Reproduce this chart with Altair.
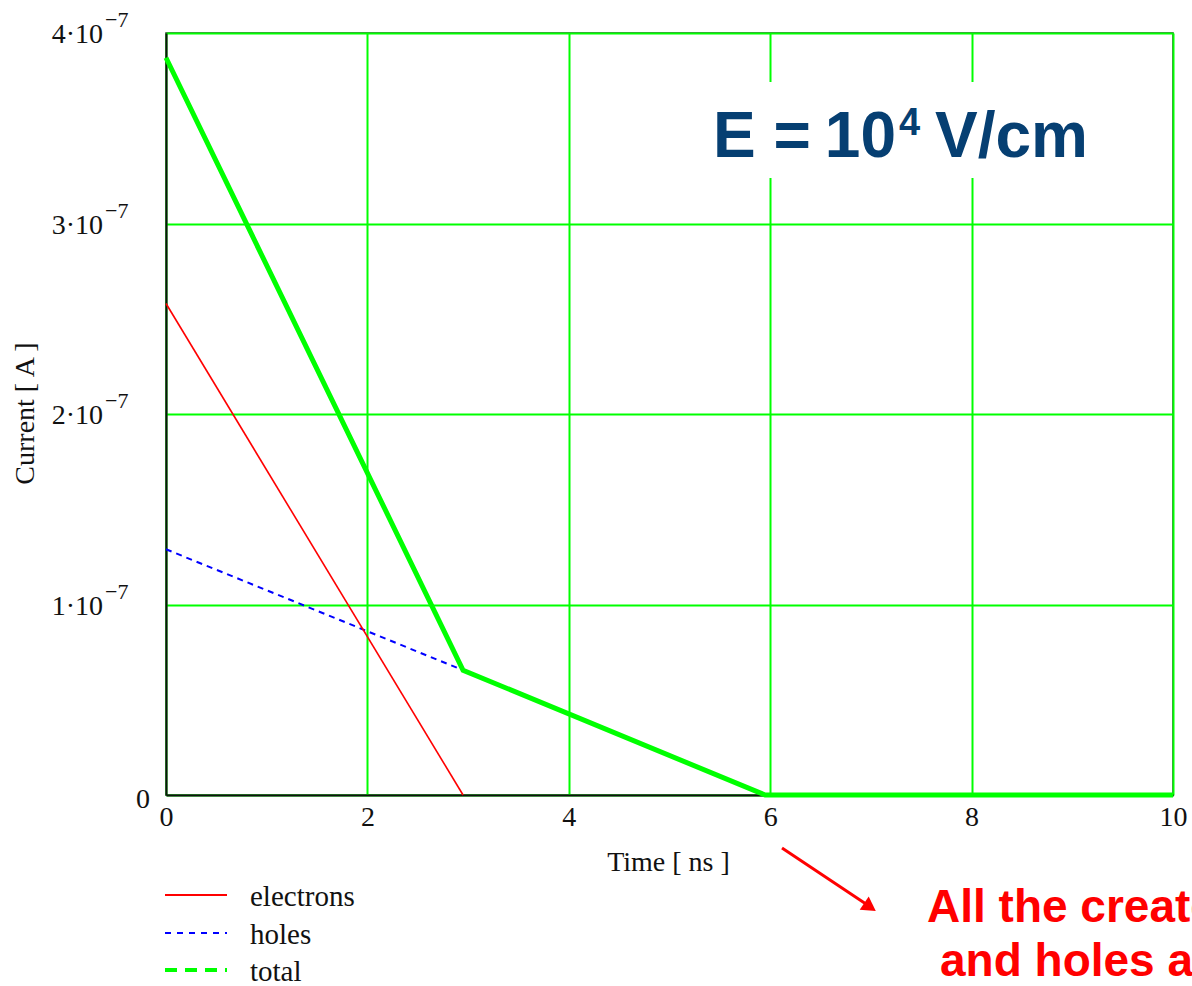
import altair as alt
import pandas as pd

# Induced current in the detector, time in ns, current in A
t_electrons = [0.0, 2.95]
i_electrons = [2.58e-7, 0.0]

t_holes = [0.0, 2.95, 5.95]
i_holes = [1.29e-7, 0.655e-7, 0.0]

t_total = [0.0, 2.95, 5.95, 10.0]
i_total = [3.87e-7, 0.655e-7, 0.0, 0.0]

x_ticks = [0, 2, 4, 6, 8, 10]
y_ticks = [0.0, 1e-7, 2e-7, 3e-7, 4e-7]
y_tick_values = [1e-7, 2e-7, 3e-7, 4e-7]
y_tick_mantissa = ["1·10", "2·10", "3·10", "4·10"]

GREEN = "#00ff00"
SERIF = "Liberation Serif"
SANS = "Liberation Sans"

df_e = pd.DataFrame({"t": t_electrons, "i": i_electrons})
df_h = pd.DataFrame({"t": t_holes, "i": i_holes})
df_tot = pd.DataFrame({"t": t_total, "i": i_total})
df_ylab = pd.DataFrame({"i": y_tick_values, "label": y_tick_mantissa})
df_zero = pd.DataFrame({"i": [0.0], "label": ["0"]})
one = pd.DataFrame({"k": [0]})

xs = alt.Scale(domain=[0, 10], nice=False, zero=False)
ys = alt.Scale(domain=[0, 4e-7], nice=False)

x_axis = alt.Axis(
    values=x_ticks, grid=True, gridColor=GREEN, gridWidth=2, gridOpacity=1,
    ticks=False, domainColor="#111111", domainWidth=2,
    labelFont=SERIF, labelFontSize=28, labelColor="#111111", labelPadding=8,
    labelFlush=False, labelOverlap=False,
    title="Time [ ns ]", titleFont=SERIF, titleFontSize=28,
    titleFontWeight="normal", titleColor="#111111",
    titleX=502, titleY=67, titleAlign="center", titleBaseline="middle",
)
y_axis = alt.Axis(
    values=y_ticks, grid=True, gridColor=GREEN, gridWidth=2, gridOpacity=1,
    ticks=False, labels=False, domainColor="#111111", domainWidth=2,
    title="Current [ A ]", titleFont=SERIF, titleFontSize=28,
    titleFontWeight="normal", titleColor="#111111",
    titleX=-141, titleY=380, titleAngle=270,
    titleAlign="center", titleBaseline="middle",
)


def X():
    return alt.X("t:Q", scale=xs, axis=x_axis)


def Y():
    return alt.Y("i:Q", scale=ys, axis=y_axis)


holes = alt.Chart(df_h).mark_line(
    color="#0000ff", strokeWidth=2, strokeDash=[6, 5]
).encode(x=X(), y=Y())

electrons = alt.Chart(df_e).mark_line(
    color="#ff0000", strokeWidth=1.6
).encode(x=X(), y=Y())

total = alt.Chart(df_tot).mark_line(
    color=GREEN, strokeWidth=5
).encode(x=X(), y=Y())

# y tick labels in the form "n·10" with a raised exponent
ylab = alt.Chart(df_ylab).mark_text(
    align="right", baseline="middle", font=SERIF, fontSize=28, color="#111111", dy=2
).encode(x=alt.value(-63), y=Y(), text="label:N")

yexp = alt.Chart(df_ylab).mark_text(
    align="left", baseline="middle", font=SERIF, fontSize=22, color="#111111", dy=-13
).encode(x=alt.value(-61), y=Y(), text=alt.value("−7"))

yzero = alt.Chart(df_zero).mark_text(
    align="right", baseline="middle", font=SERIF, fontSize=28, color="#111111", dy=5
).encode(x=alt.value(-16), y=Y(), text="label:N")

# legend below the plot
leg_e = alt.Chart(one).mark_rule(color="#ff0000", strokeWidth=2).encode(
    x=alt.value(-1), x2=alt.value(61), y=alt.value(862))
leg_h = alt.Chart(one).mark_rule(color="#0000ff", strokeWidth=2, strokeDash=[6, 6]).encode(
    x=alt.value(-1), x2=alt.value(61), y=alt.value(900))
leg_t = alt.Chart(one).mark_rule(color=GREEN, strokeWidth=4, strokeDash=[12, 8]).encode(
    x=alt.value(-1), x2=alt.value(61), y=alt.value(937))


def leg_text(label, y):
    return alt.Chart(one).mark_text(
        align="left", baseline="middle", font=SERIF, fontSize=29, color="#111111"
    ).encode(x=alt.value(84), y=alt.value(y), text=alt.value(label))


legend = [leg_e, leg_h, leg_t,
          leg_text("electrons", 864), leg_text("holes", 902), leg_text("total", 939)]

# field-strength label in a white box
box = alt.Chart(one).mark_rect(color="white").encode(
    x=alt.value(519), x2=alt.value(951), y=alt.value(49), y2=alt.value(145))

FIELD_BLUE = "#063f72"
e_lhs = alt.Chart(one).mark_text(
    align="left", baseline="alphabetic", font=SANS, fontWeight="bold",
    fontSize=64, color=FIELD_BLUE
).encode(x=alt.value(547), y=alt.value(124), text=alt.value("E ="))
e_ten = alt.Chart(one).mark_text(
    align="right", baseline="alphabetic", font=SANS, fontWeight="bold",
    fontSize=64, color=FIELD_BLUE
).encode(x=alt.value(730), y=alt.value(124), text=alt.value("10"))
e_exp = alt.Chart(one).mark_text(
    align="left", baseline="alphabetic", font=SANS, fontWeight="bold",
    fontSize=38, color=FIELD_BLUE
).encode(x=alt.value(733), y=alt.value(102), text=alt.value("4"))
e_unit = alt.Chart(one).mark_text(
    align="left", baseline="alphabetic", font=SANS, fontWeight="bold",
    fontSize=64, color=FIELD_BLUE
).encode(x=alt.value(769), y=alt.value(124), text=alt.value("V/cm"))

# red arrow and note below the plot
arrow_line = alt.Chart(one).mark_rule(color="#ff0000", strokeWidth=3).encode(
    x=alt.value(616), y=alt.value(815), x2=alt.value(703), y2=alt.value(873))
arrow_head = alt.Chart(one).mark_point(
    shape="triangle-right", filled=True, color="#ff0000", opacity=1, size=260, angle=34
).encode(x=alt.value(704), y=alt.value(874))

note1 = alt.Chart(one).mark_text(
    align="left", baseline="alphabetic", font=SANS, fontWeight="bold",
    fontSize=46, color="#ff0000"
).encode(x=alt.value(761), y=alt.value(889), text=alt.value("All the created electrons"))
note2 = alt.Chart(one).mark_text(
    align="left", baseline="alphabetic", font=SANS, fontWeight="bold",
    fontSize=46, color="#ff0000"
).encode(x=alt.value(774), y=alt.value(943), text=alt.value("and holes are collected"))

chart = alt.layer(
    holes, electrons, total, ylab, yexp, yzero,
    box, e_lhs, e_ten, e_exp, e_unit,
    *legend, arrow_line, arrow_head, note1, note2,
).properties(
    width=1007, height=762,
    autosize=alt.AutoSizeParams(type="none"),
    padding={"left": 166, "top": 33, "right": 19, "bottom": 191},
    background="white",
).configure_view(stroke="#333333", strokeWidth=1.5, fill="white")

chart.save("out.html", embed_options={"renderer": "svg", "actions": False})
